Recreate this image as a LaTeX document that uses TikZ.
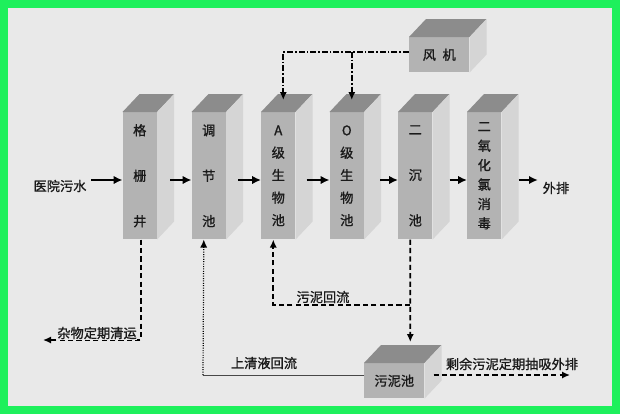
\documentclass[tikz,border=0pt]{standalone}
\usepackage{fontspec}
\setmainfont{Noto Sans CJK SC}[BoldFont={Noto Sans CJK SC}, BoldFeatures={FakeBold=1.2}]
\usetikzlibrary{arrows.meta,calc}
\definecolor{framegreen}{HTML}{1EF05C}
\definecolor{paper}{HTML}{E9E9E9}
\definecolor{frontgray}{HTML}{B3B3B3}
\definecolor{topgray}{HTML}{8C8C8C}
\definecolor{sidegray}{HTML}{D5D5D5}
\definecolor{ink}{HTML}{1A1A1A}
\newcommand{\tankfaces}[1]{%
  \fill[topgray] (#1.north west) -- ++(17,-18) -- ($(#1.north east)+(17,-18)$) -- (#1.north east) -- cycle;
  \fill[sidegray] (#1.north east) -- ++(17,-18) -- ($(#1.south east)+(17,-18)$) -- (#1.south east) -- cycle;}

\begin{document}
\begin{tikzpicture}[x=0.25mm, y=-0.25mm,
    every node/.style={text=ink, font=\fontsize{9.4pt}{11pt}\selectfont\bfseries},
    tank/.style={fill=frontgray, anchor=north west, inner sep=0pt, align=center,
      minimum width=8.5mm, minimum height=31.75mm},
    tall/.style={font=\fontsize{9.4pt}{32.3pt}\selectfont\bfseries},
    mid/.style={font=\fontsize{9.4pt}{16pt}\selectfont\bfseries},
    tight/.style={font=\fontsize{9.4pt}{13.8pt}\selectfont\bfseries},
    block/.style={fill=frontgray, anchor=north west, inner sep=0pt,
      minimum width=15mm, minimum height=8.75mm},
    flow/.style={line width=0.5mm, -{Latex[length=2.2mm,width=2.1mm]}},
    sludge/.style={line width=0.42mm, dash pattern=on 1.3mm off 0.8mm, -{Latex[length=2mm,width=1.8mm]}},
    air/.style={line width=0.4mm, dash pattern=on 1.5mm off 0.5mm on 0.4mm off 0.5mm, -{Latex[length=2mm,width=1.8mm]}},
    clear/.style={line width=0.25mm, color=ink!80}]
    \useasboundingbox (0,0) rectangle (620,414);
    \fill[framegreen] (0,0) rectangle (620,414);
    \fill[paper] (8,8) rectangle (612,406);

    % tanks of the line
    \node[tank, tall] (ggj) at (122.5,112) {格\\栅\\井}; \tankfaces{ggj}
    \node[tank, tall] (tjc) at (191.5,112) {调\\节\\池}; \tankfaces{tjc}
    \node[tank, mid] (apool) at (261,112) {A\\级\\生\\物\\池}; \tankfaces{apool}
    \node[tank, mid] (opool) at (329.5,112) {O\\级\\生\\物\\池}; \tankfaces{opool}
    \node[tank, tall] (ecc) at (398,112) {二\\沉\\池}; \tankfaces{ecc}
    \node[tank, tight] (xd) at (467,112) {二\\氧\\化\\氯\\消\\毒}; \tankfaces{xd}
    \node[block] (fj) at (409,37) {风\enspace 机}; \tankfaces{fj}
    \node[block] (wnc) at (364,363) {污泥池}; \tankfaces{wnc}

    \node (src) at (60,186) {医院污水};
    \node (wp) at (556,188) {外排};

    % main flow
    \coordinate (row) at (0,180);
    \draw[flow] (src.east |- row) -- (ggj.west |- row);
    \draw[flow] ($(ggj.east |- row)+(13,0)$) -- (tjc.west |- row);
    \draw[flow] ($(tjc.east |- row)+(12,0)$) -- (apool.west |- row);
    \draw[flow] ($(apool.east |- row)+(11,0)$) -- (opool.west |- row);
    \draw[flow] ($(opool.east |- row)+(16,0)$) -- (ecc.west |- row);
    \draw[flow] ($(ecc.east |- row)+(17,0)$) -- (xd.west |- row);
    \draw[flow] ($(xd.east |- row)+(17,0)$) -- (wp.west |- row);

    % air supply
    \draw[air] ($(fj.west)+(0,-3)$) -| ($(apool.north)+(5,-12)$);
    \draw[air] ($(opool.north)+(5,-60.3)$) -- ($(opool.north)+(5,-12)$);

    % screenings
    \coordinate (zw) at (43,340);
    \draw[sludge] ($(ggj.south)+(1,0)$) |- (zw);
    \node[fill=paper, inner sep=0.5pt] (zwtxt) at (97,333) {杂物定期清运};

    % sludge return and sludge tank
    \coordinate (fork) at (410,305);
    \draw[sludge] ($(ecc.south)+(-5,0)$) -- ($(wnc.north)+(16,-21)$);
    \draw[sludge] (fork) -| ($(apool.south)+(-5,0)$);
    \node (hltxt) at (323,297) {污泥回流};

    % supernatant return
    \coordinate (sq) at (203,375);
    \draw[clear] (wnc.west |- sq) -- (sq);
    \draw[line width=0.3mm, dash pattern=on 0.25mm off 0.35mm, -{Latex[length=2mm,width=1.8mm]}] (sq) -- ($(tjc.south)+(-5,0)$);
    \node (sqtxt) at (264,363) {上清液回流};

    % excess sludge out
    \coordinate (pc) at (570,375);
    \draw[sludge] ($(wnc.east |- pc)+(9,0)$) -- (pc);
    \node (pctxt) at (512,364) {剩余污泥定期抽吸外排};
\end{tikzpicture}
\end{document}
